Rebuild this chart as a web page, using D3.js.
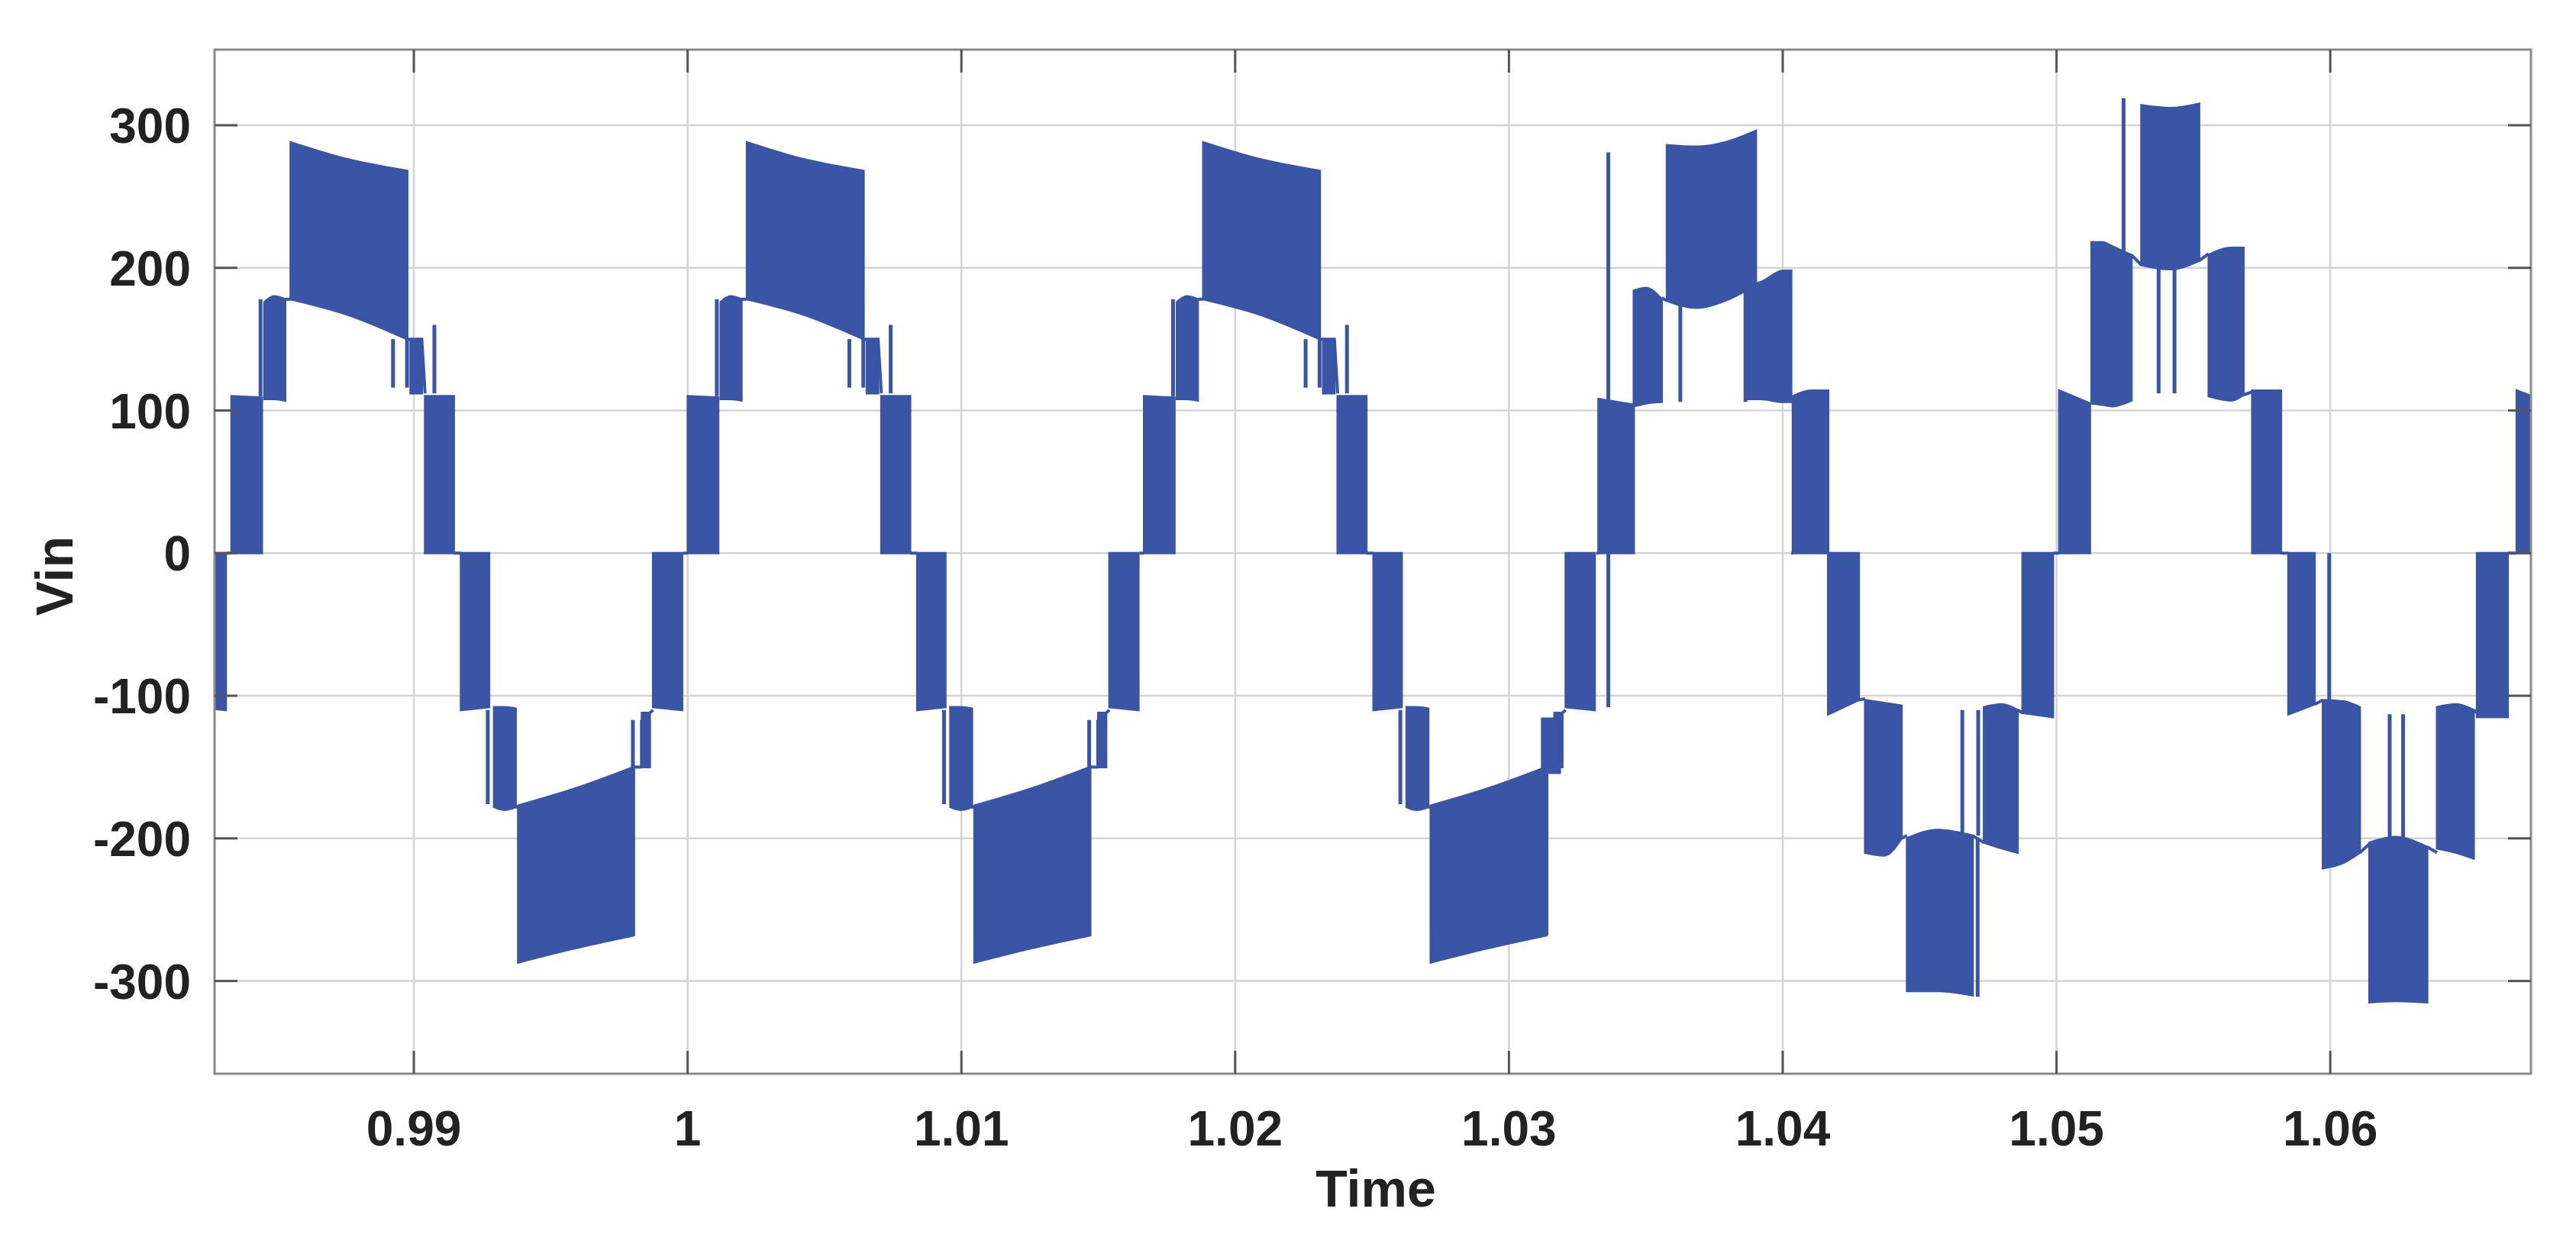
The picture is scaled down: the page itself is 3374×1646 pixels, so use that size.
<!DOCTYPE html>
<html><head><meta charset="utf-8">
<script src="https://cdn.jsdelivr.net/npm/d3@7"></script>
<style>body{margin:0;background:#fff}</style></head>
<body><svg id="c" width="3374" height="1646"></svg>
<script>
const xTicks=[0.99,1.00,1.01,1.02,1.03,1.04,1.05,1.06];
const xTickLabels=["0.99","1","1.01","1.02","1.03","1.04","1.05","1.06"];
const yTicks=[-300,-200,-100,0,100,200,300];
const xDomain=[0.98272,1.06733];
const yDomain=[-365,353];
// one repeating cycle (times for the first cycle), repeated at these offsets
const cycleOffsets=[-0.016667,0,0.016667,0.033333];
const cycleBands=[
 {t:[0.98334,0.98445],hi:[110,109],lo:[0,0]},
 {t:[0.98454,0.98490,0.98530],hi:[176,180,178],lo:[108,108,107]},
 {t:[0.98550,0.98760,0.98976],hi:[288,276,268],lo:[178,167,150]},
 {t:[0.98988,0.99029],hi:[150,150],lo:[112,112]},
 {t:[0.99041,0.99146],hi:[110,110],lo:[0,0]},
 {t:[0.99172,0.99275],hi:[0,0],lo:[-110,-108]},
 {t:[0.99293,0.99330,0.99372],hi:[-108,-108,-109],lo:[-178,-180,-178]},
 {t:[0.99381,0.99590,0.99804],hi:[-177,-165,-150],lo:[-287,-277,-268]},
 {t:[0.99833,0.99862],hi:[-112,-112],lo:[-150,-150]},
 {t:[0.99874,0.99980],hi:[0,0],lo:[-108,-110]}
];
const cycleSpikes=[[0.98440,110,178],[0.98924,150,116],[0.98975,150,116],[0.99075,112,160],
 [0.99270,-110,-176],[0.99800,-150,-117],[0.99833,-150,-117]];
const cycleLinks=[
 [[0.98317,0],[0.98334,0]],[[0.98530,178],[0.98550,178]],
 [[0.98976,150],[0.99029,150],[0.99041,112]],[[0.99146,0],[0.99172,0]],
 [[0.99372,-178],[0.99381,-178]],[[0.99804,-150],[0.99833,-150]],[[0.99862,-112],[0.99874,-110]]
];
// transient section, after 1.031
const transBands=[
 {t:[1.03121,1.03186],hi:[-116,-116],lo:[-154,-154]},
 {t:[1.03327,1.03456],hi:[108,104],lo:[0,0]},
 {t:[1.03456,1.03500,1.03558],hi:[184,186,178],lo:[103,105,106]},
 {t:[1.03577,1.03685,1.03790,1.03902],hi:[286,285,288,296],lo:[177,172,177,188]},
 {t:[1.03873,1.03919,1.04002,1.04031],hi:[188,190,198,198],lo:[108,108,106,106]},
 {t:[1.04037,1.04100,1.04166],hi:[110,114,114],lo:[0,0,0]},
 {t:[1.04166,1.04278],hi:[0,0],lo:[-113,-103]},
 {t:[1.04301,1.04370,1.04434],hi:[-103,-105,-107],lo:[-210,-212,-200]},
 {t:[1.04454,1.04565,1.04694],hi:[-200,-194,-198],lo:[-307,-307,-310]},
 {t:[1.04735,1.04800,1.04858],hi:[-108,-106,-110],lo:[-203,-207,-210]},
 {t:[1.04876,1.04987],hi:[0,0],lo:[-112,-115]},
 {t:[1.05010,1.05122],hi:[114,105],lo:[0,0]},
 {t:[1.05128,1.05169,1.05204,1.05274],hi:[218,218,215,209],lo:[105,104,103,107]},
 {t:[1.05310,1.05415,1.05521],hi:[314,312,315],lo:[202,199,205]},
 {t:[1.05556,1.05638,1.05683],hi:[209,214,214],lo:[110,107,111]},
 {t:[1.05715,1.05820],hi:[114,114],lo:[0,0]},
 {t:[1.05847,1.05943],hi:[0,0],lo:[-113,-106]},
 {t:[1.05973,1.06049,1.06108],hi:[-103,-104,-108],lo:[-221,-217,-210]},
 {t:[1.06143,1.06237,1.06354],hi:[-203,-199,-206],lo:[-315,-314,-315]},
 {t:[1.06390,1.06460,1.06524],hi:[-108,-106,-110],lo:[-207,-210,-214]},
 {t:[1.06536,1.06648],hi:[0,0],lo:[-115,-115]},
 {t:[1.06681,1.06736],hi:[114,110],lo:[0,0]}
];
const transSpikes=[[1.03137,-116,-268],[1.03363,-108,281],[1.03626,175,106],[1.03864,185,106],
 [1.04656,-196,-110],[1.04714,-198,-110],[1.04712,-200,-311],[1.05245,205,319],
 [1.05373,200,112],[1.05431,200,112],[1.05996,0,-103],[1.06217,-200,-113],[1.06266,-200,-113]];
const transLinks=[
 [[1.03319,0],[1.03327,0]],[[1.03558,179],[1.03577,177]],[[1.04031,0],[1.04037,0]],
 [[1.04278,-103],[1.04301,-102]],[[1.04434,-200],[1.04454,-198]],[[1.04694,-198],[1.04735,-203]],
 [[1.04858,-110],[1.04876,-112]],[[1.04987,0],[1.05010,0]],[[1.05274,209],[1.05310,202]],
 [[1.05521,205],[1.05556,210]],[[1.05683,111],[1.05715,113]],[[1.05820,0],[1.05847,0]],
 [[1.05943,-106],[1.05973,-103]],[[1.06108,-210],[1.06143,-204]],[[1.06354,-206],[1.06390,-210]],
 [[1.06524,-110],[1.06536,-112]],[[1.06648,0],[1.06681,0]]
];

const L=281,R=3315,T=65,B=1406;
const col="#3a55a5";
const svg=d3.select("#c");
const x=d3.scaleLinear().domain(xDomain).range([L,R]);
const y=d3.scaleLinear().domain(yDomain).range([B,T]);
const font="'Liberation Sans', Arial, sans-serif";

const g=svg.append("g");
g.selectAll(".gx").data(xTicks).join("line").attr("x1",d=>x(d)).attr("x2",d=>x(d)).attr("y1",T).attr("y2",B)
 .attr("stroke","#d4d4d4").attr("stroke-width",2.5);
g.selectAll(".gy").data(yTicks).join("line").attr("y1",d=>y(d)).attr("y2",d=>y(d)).attr("x1",L).attr("x2",R)
 .attr("stroke","#d4d4d4").attr("stroke-width",2.5);

svg.append("clipPath").attr("id","clip").append("rect").attr("x",L).attr("y",T).attr("width",R-L).attr("height",B-T);
const p=svg.append("g").attr("clip-path","url(#clip)");
const area=d3.area().curve(d3.curveMonotoneX).x(d=>x(d[0])).y0(d=>y(d[1])).y1(d=>y(d[2]));
const line=d3.line().x(d=>x(d[0])).y(d=>y(d[1]));
function drawBands(bands,off){
 bands.forEach(b=>{
  const pts=b.t.map((t,i)=>[t+off,b.lo[i],b.hi[i]]);
  p.append("path").attr("d",area(pts)).attr("fill",col).attr("stroke",col).attr("stroke-width",3);
 });
}
function drawSpikes(sp,off){
 sp.forEach(s=>p.append("line").attr("x1",x(s[0]+off)).attr("x2",x(s[0]+off)).attr("y1",y(s[1])).attr("y2",y(s[2]))
  .attr("stroke",col).attr("stroke-width",5));
}
function drawLinks(ls,off){
 ls.forEach(l=>p.append("path").attr("d",line(l.map(q=>[q[0]+off,q[1]]))).attr("fill","none").attr("stroke",col).attr("stroke-width",4));
}
cycleOffsets.forEach(o=>{drawBands(cycleBands,o);drawSpikes(cycleSpikes,o);drawLinks(cycleLinks,o);});
drawBands(transBands,0);drawSpikes(transSpikes,0);drawLinks(transLinks,0);

svg.append("rect").attr("x",L).attr("y",T).attr("width",R-L).attr("height",B-T).attr("fill","none").attr("stroke","#8a8a8a").attr("stroke-width",3);
const tk=svg.append("g").attr("stroke","#555").attr("stroke-width",3);
xTicks.forEach(d=>{tk.append("line").attr("x1",x(d)).attr("x2",x(d)).attr("y1",B).attr("y2",B-30);
 tk.append("line").attr("x1",x(d)).attr("x2",x(d)).attr("y1",T).attr("y2",T+30);});
yTicks.forEach(d=>{tk.append("line").attr("y1",y(d)).attr("y2",y(d)).attr("x1",L).attr("x2",L+30);
 tk.append("line").attr("y1",y(d)).attr("y2",y(d)).attr("x1",R).attr("x2",R-30);});

svg.selectAll(".xl").data(xTicks).join("text").attr("x",d=>x(d)).attr("y",1500).attr("text-anchor","middle")
 .attr("font-family",font).attr("font-weight","bold").attr("font-size",64).attr("fill","#222").text((d,i)=>xTickLabels[i]);
svg.selectAll(".yl").data(yTicks).join("text").attr("x",250).attr("y",d=>y(d)+23).attr("text-anchor","end")
 .attr("font-family",font).attr("font-weight","bold").attr("font-size",64).attr("fill","#222").text(d=>d);
svg.append("text").attr("x",1802).attr("y",1580).attr("text-anchor","middle").attr("font-family",font)
 .attr("font-weight","bold").attr("font-size",68).attr("fill","#222").text("Time");
svg.append("text").attr("transform",`translate(95,${y(0)+30}) rotate(-90)`).attr("text-anchor","middle").attr("font-family",font)
 .attr("font-weight","bold").attr("font-size",68).attr("fill","#222").text("Vin");
</script></body></html>
